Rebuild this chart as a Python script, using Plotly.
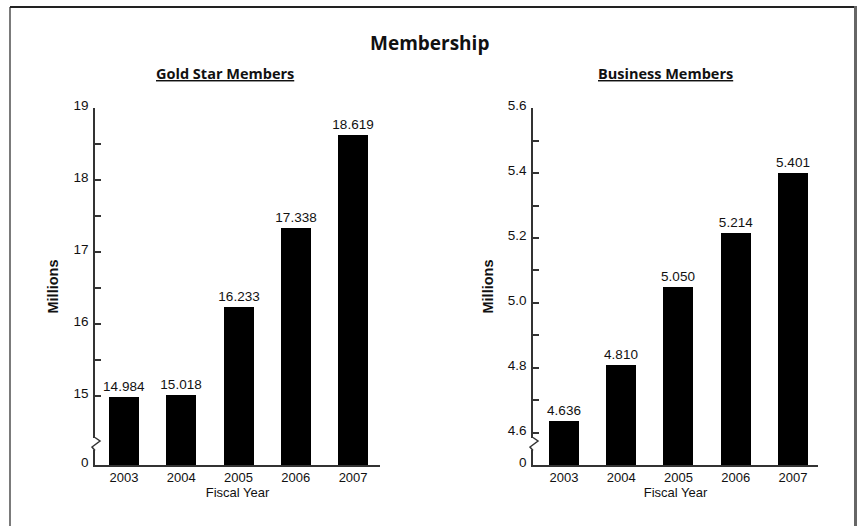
import plotly.graph_objects as go

# ---------------- data ----------------
years = ["2003", "2004", "2005", "2006", "2007"]
gold_star = [14.984, 15.018, 16.233, 17.338, 18.619]
business = [4.636, 4.810, 5.050, 5.214, 5.401]

gold_ticks = [15, 16, 17, 18, 19]
gold_minor = [15.5, 16.5, 17.5, 18.5]
biz_ticks = [4.6, 4.8, 5.0, 5.2, 5.4, 5.6]
biz_minor = [4.7, 4.9, 5.1, 5.3, 5.5]

W, H = 859, 526
FONT = "Liberation Sans, Arial, sans-serif"
TFONT = "Open Sans, sans-serif"
AX = "#333333"

# pixel layout helpers
def px(x):
    return x / W

def py(y):
    return 1 - y / H

Y_TOP, Y_BOT = 108, 465
L_X0, L_X1 = 95, 380
R_X0, R_X1 = 533, 818

# y-ranges with broken axis (baseline drawn as "0")
gold_base = 14.04
biz_base = 4.5015

fig = go.Figure()
fig.add_trace(go.Bar(
    x=list(range(len(years))), y=[v - gold_base for v in gold_star], base=gold_base,
    xaxis="x", yaxis="y",
    marker=dict(color="black", line=dict(width=0)), width=0.524,
    text=[f"{v:.3f}" for v in gold_star], textposition="outside", constraintext="none",
    textfont=dict(family=FONT, size=13.5, color="#111"), cliponaxis=False,
    showlegend=False, hoverinfo="skip",
))
fig.add_trace(go.Bar(
    x=list(range(len(years))), y=[v - biz_base for v in business], base=biz_base,
    xaxis="x2", yaxis="y2",
    marker=dict(color="black", line=dict(width=0)), width=0.524,
    text=[f"{v:.3f}" for v in business], textposition="outside", constraintext="none",
    textfont=dict(family=FONT, size=13.5, color="#111"), cliponaxis=False,
    showlegend=False, hoverinfo="skip",
))

xcommon = dict(
    showgrid=False, zeroline=False, showline=True, linecolor=AX, linewidth=1.5,
    ticks="", tickmode="array", tickvals=list(range(len(years))), ticktext=years,
    tickfont=dict(family=FONT, size=13, color="#111"), fixedrange=True,
    title=dict(text="Fiscal Year", font=dict(family=FONT, size=13, color="#111"), standoff=4),
    ticklabelstandoff=0, automargin=False,
)
ycommon = dict(
    showgrid=False, zeroline=False, showline=True, linecolor=AX, linewidth=1.5,
    ticks="inside", ticklen=6, tickwidth=1.5, tickcolor=AX,
    tickfont=dict(family=FONT, size=13.5, color="#111"), tickmode="array",
    ticklabelshift=-3, ticklabelstandoff=2, fixedrange=True, automargin=False,
    title=dict(text="<b>Millions</b>", font=dict(family=FONT, size=14.5, color="#111"), standoff=11),
)

fig.update_layout(
    width=W, height=H, margin=dict(l=0, r=0, t=0, b=0, autoexpand=False),
    paper_bgcolor="white", plot_bgcolor="white", bargap=0,
    xaxis=dict(xcommon, domain=[px(L_X0), px(L_X1)], range=[-0.507, 4.47], anchor="y"),
    xaxis2=dict(xcommon, domain=[px(R_X0), px(R_X1)], range=[-0.541, 4.437], anchor="y2"),
    yaxis=dict(ycommon, domain=[py(Y_BOT), py(Y_TOP)], range=[gold_base, 19], anchor="x",
               tickvals=[gold_base] + gold_ticks,
               ticktext=["0"] + [f"{t:g}" for t in gold_ticks],
               minor=dict(tickmode="array", tickvals=gold_minor, ticks="inside",
                          ticklen=6, tickwidth=1.5, tickcolor=AX)),
    yaxis2=dict(ycommon, domain=[py(Y_BOT), py(Y_TOP)], range=[biz_base, 5.6], anchor="x2",
                tickvals=[biz_base] + biz_ticks,
                ticktext=["0"] + [f"{t:.1f}" for t in biz_ticks],
                minor=dict(tickmode="array", tickvals=biz_minor, ticks="inside",
                           ticklen=6, tickwidth=1.5, tickcolor=AX)),
)

annotations = [
    dict(text="<b>Membership</b>", x=px(429), y=py(43), xref="paper", yref="paper",
         xanchor="center", yanchor="middle",
         showarrow=False, font=dict(family=TFONT, size=19, color="#111")),
    dict(text="<b><u>Gold Star Members</u></b>", x=px(225), y=py(73), xref="paper", yref="paper",
         xanchor="center", yanchor="middle",
         showarrow=False, font=dict(family=TFONT, size=14.5, color="#111")),
    dict(text="<b><u>Business Members</u></b>", x=px(665), y=py(73), xref="paper", yref="paper",
         xanchor="center", yanchor="middle",
         showarrow=False, font=dict(family=TFONT, size=14.5, color="#111")),
]
fig.update_layout(annotations=annotations)

shapes = [
    # outer frame
    dict(type="line", xref="paper", yref="paper", x0=px(10), x1=px(10), y0=py(7), y1=py(530),
         line=dict(color="#222", width=1.2)),
    dict(type="line", xref="paper", yref="paper", x0=px(10), x1=px(856), y0=py(7), y1=py(7),
         line=dict(color="#222", width=2)),
    dict(type="line", xref="paper", yref="paper", x0=px(855.5), x1=px(855.5), y0=py(6), y1=py(530),
         line=dict(color="#666", width=3)),
]

def brk(ax_x):
    return [
        dict(type="rect", xref="paper", yref="paper", x0=px(ax_x - 2), x1=px(ax_x + 2),
             y0=py(450), y1=py(438), fillcolor="white", line=dict(width=0), layer="above"),
        dict(type="path", xref="paper", yref="paper", layer="above",
             path=(f"M{px(ax_x)},{py(437.5)} L{px(ax_x + 5)},{py(441)} "
                   f"L{px(ax_x - 3)},{py(447)} L{px(ax_x)},{py(450.5)}"),
             line=dict(color=AX, width=1.5)),
    ]

shapes += brk(L_X0) + brk(R_X0)
fig.update_layout(shapes=shapes)

fig.write_html("out.html")
